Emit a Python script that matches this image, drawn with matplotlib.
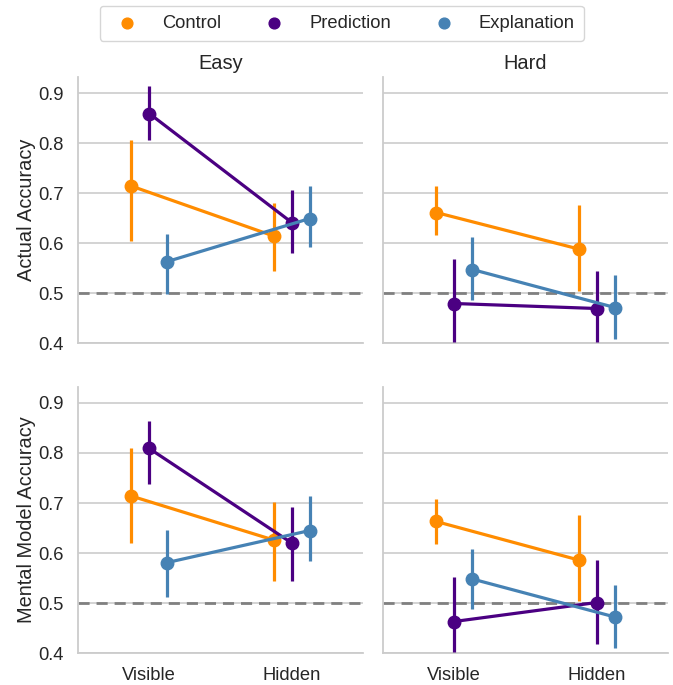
import numpy as np
import matplotlib.pyplot as plt

plt.rcParams['font.family'] = ['Liberation Sans', 'DejaVu Sans']

conditions = ['Visible', 'Hidden']
groups = ['Control', 'Prediction', 'Explanation']
colors = ['darkorange', 'indigo', 'steelblue']
difficulties = ['Easy', 'Hard']
measures = ['Actual Accuracy', 'Mental Model Accuracy']

# means [group] -> (Visible, Hidden), with lower / upper CI
actual_easy = [[0.714, 0.614], [0.859, 0.641], [0.563, 0.649]]
actual_easy_lo = [[0.604, 0.545], [0.806, 0.581], [0.499, 0.593]]
actual_easy_hi = [[0.807, 0.681], [0.914, 0.706], [0.619, 0.714]]

actual_hard = [[0.661, 0.588], [0.479, 0.469], [0.547, 0.471]]
actual_hard_lo = [[0.616, 0.505], [0.403, 0.403], [0.487, 0.409]]
actual_hard_hi = [[0.714, 0.676], [0.568, 0.545], [0.613, 0.537]]

mental_easy = [[0.714, 0.626], [0.809, 0.620], [0.581, 0.645]]
mental_easy_lo = [[0.620, 0.545], [0.738, 0.545], [0.512, 0.585]]
mental_easy_hi = [[0.809, 0.701], [0.864, 0.692], [0.646, 0.714]]

mental_hard = [[0.663, 0.586], [0.463, 0.501], [0.548, 0.472]]
mental_hard_lo = [[0.618, 0.505], [0.403, 0.419], [0.488, 0.410]]
mental_hard_hi = [[0.708, 0.676], [0.552, 0.586], [0.608, 0.537]]

panels = [
    [(actual_easy, actual_easy_lo, actual_easy_hi), (actual_hard, actual_hard_lo, actual_hard_hi)],
    [(mental_easy, mental_easy_lo, mental_easy_hi), (mental_hard, mental_hard_lo, mental_hard_hi)],
]

fig = plt.figure(figsize=(6.73, 6.85), dpi=100)
W, H = 673, 685
lefts = [78, 383]
tops = [77, 387]
aw, ah = 285, 266

offsets = [-0.127, 0.0, 0.127]
grid_c = '#cccccc'
text_c = '#262626'
x = np.arange(len(conditions))

handles = []
for r in range(2):
    for c in range(2):
        ax = fig.add_axes([lefts[c] / W, 1 - (tops[r] + ah) / H, aw / W, ah / H])
        means, lo, hi = panels[r][c]
        for g in range(3):
            xs = x + offsets[g]
            m = np.array(means[g])
            ax.vlines(xs, lo[g], hi[g], color=colors[g], lw=2.3, zorder=3)
            ax.plot(xs, m, color=colors[g], lw=2.3, marker='o', ms=9, zorder=4)
            if r == 0 and c == 0:
                handles.append(ax.scatter([], [], color=colors[g], s=60, label=groups[g]))
        ax.axhline(0.5, color='gray', ls='--', lw=2, dashes=(4, 2.5), zorder=2)
        ax.set_xlim(-0.5, 1.5)
        ax.set_ylim(0.4, 0.932)
        ax.set_yticks([0.4, 0.5, 0.6, 0.7, 0.8, 0.9])
        ax.yaxis.grid(True, color=grid_c, lw=1.2)
        ax.set_axisbelow(True)
        for s in ['top', 'right']:
            ax.spines[s].set_visible(False)
        for s in ['left', 'bottom']:
            ax.spines[s].set_color(grid_c)
            ax.spines[s].set_linewidth(1.3)
        ax.tick_params(length=0, labelsize=13.2, colors=text_c, pad=10)
        ax.set_xticks(x)
        if r == 1:
            ax.set_xticklabels(conditions)
        else:
            ax.set_xticklabels([])
        if c == 0:
            ax.set_ylabel(measures[r], fontsize=14.4, color=text_c, labelpad=2)
        else:
            ax.set_yticklabels([])
        if r == 0:
            ax.set_title(difficulties[c], fontsize=14.4, color=text_c, pad=6)

leg = fig.legend(handles=handles, loc='upper center', bbox_to_anchor=(0.508, 1.0),
                 ncol=3, fontsize=13.2, frameon=True, columnspacing=1.9, handletextpad=0.9,
                 borderpad=0.5, borderaxespad=0.3, fancybox=True)
for t in leg.get_texts():
    t.set_color(text_c)
leg.get_frame().set_edgecolor('#cccccc')

fig.savefig('out.png', dpi=100)
